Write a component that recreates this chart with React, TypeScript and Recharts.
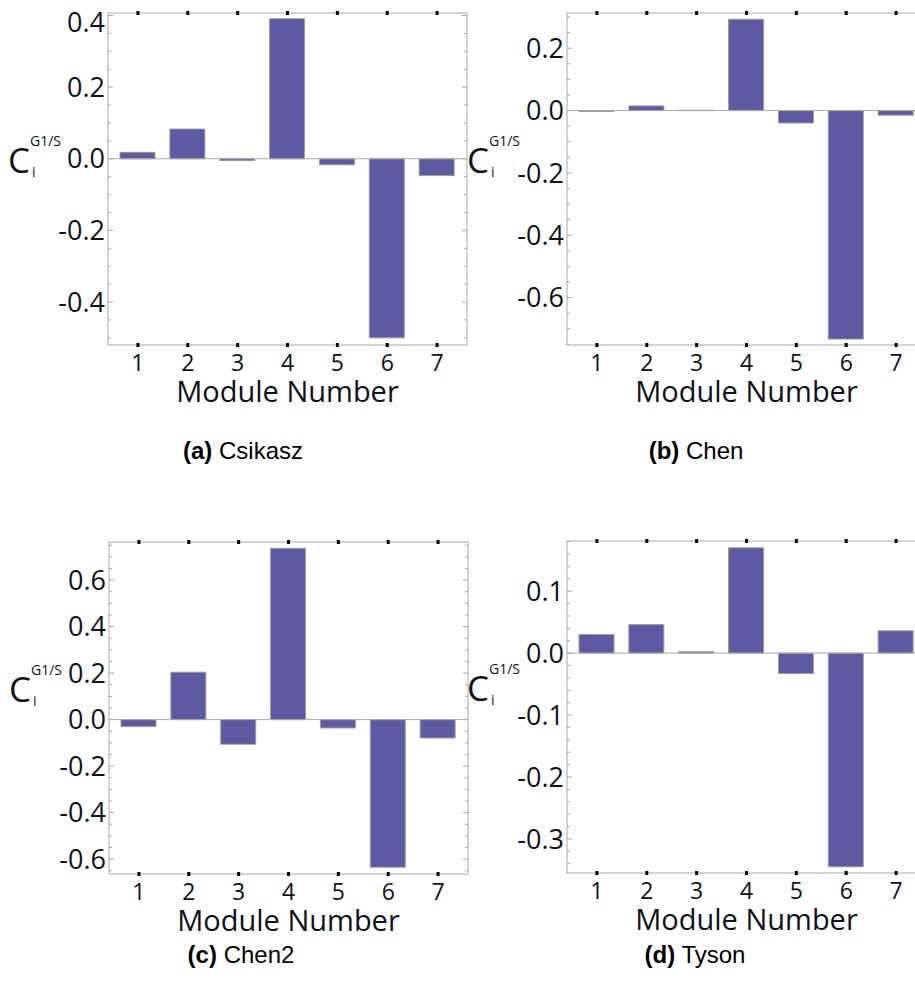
import React from 'react';
import { BarChart, Bar, XAxis, YAxis, ReferenceLine, Label } from 'recharts';

const modules = ['1', '2', '3', '4', '5', '6', '7'];

// coefficient per module
const csikasz = [0.018, 0.083, -0.005, 0.391, -0.017, -0.5, -0.047];
const chen = [-0.003, 0.015, 0.001, 0.293, -0.04, -0.733, -0.015];
const chen2 = [-0.03, 0.204, -0.106, 0.737, -0.036, -0.635, -0.079];
const tyson = [0.03, 0.046, 0.002, 0.17, -0.033, -0.345, 0.036];

const csikaszTicks = [-0.4, -0.2, 0, 0.2, 0.4];
const chenTicks = [-0.6, -0.4, -0.2, 0, 0.2];
const chen2Ticks = [-0.6, -0.4, -0.2, 0, 0.2, 0.4, 0.6];
const tysonTicks = [-0.3, -0.2, -0.1, 0, 0.1];

const AXIS_FONT = '"Open Sans", sans-serif';
const GRAY = '#a8a8a8';
const BAR = '#5d5aa3';
const INK = '#0e121a';

function allTicks(domain: number[], step: number) {
  const out: number[] = [];
  const start = Math.ceil(domain[0] / step - 1e-9);
  const end = Math.floor(domain[1] / step + 1e-9);
  for (let k = start; k <= end; k++) out.push(Math.round(k * step * 1000) / 1000);
  return out;
}

const isMajor = (v: number, majors: number[]) => majors.some((m) => Math.abs(m - v) < 1e-6);

function LeftTick({ x, y, payload, majors }: any) {
  const major = isMajor(payload.value, majors);
  return (
    <g>
      <line x1={x} x2={x + (major ? 5 : 3)} y1={y} y2={y} stroke={GRAY} />
      {major && (
        <text
          x={x - 3}
          y={Math.max(y, 22)}
          dy="0.36em"
          textAnchor="end"
          fontSize={27}
          fontWeight={500}
          fontFamily={AXIS_FONT}
          fill={INK}
        >
          {payload.value.toFixed(1)}
        </text>
      )}
    </g>
  );
}

function RightTick({ x, y, payload, majors }: any) {
  const major = isMajor(payload.value, majors);
  return <line x1={x} x2={x - (major ? 5 : 3)} y1={y} y2={y} stroke={GRAY} />;
}

function BottomTick({ x, y, payload }: any) {
  return (
    <g>
      <rect x={x - 1.5} y={y - 2} width={3} height={4} fill="#000" />
      <text x={x} y={y + 26} textAnchor="middle" fontSize={23} fontFamily={AXIS_FONT} fill={INK}>
        {payload.value}
      </text>
    </g>
  );
}

function TopTick({ x, y }: any) {
  return <rect x={x - 1.5} y={y - 2} width={3} height={4} fill="#000" />;
}

function Panel({ values, majors, domain, step, left, top }: any) {
  const data = modules.map((m, i) => ({ module: m, value: values[i] }));
  const ticks = allTicks(domain, step);
  return (
    <div style={{ position: 'absolute', left, top }}>
      <BarChart width={480} height={420} data={data} margin={{ top: 0, right: 0, bottom: 0, left: 0 }}>
        <XAxis
          xAxisId="b"
          dataKey="module"
          height={75}
          padding={{ left: 5, right: 5 }}
          axisLine={{ stroke: GRAY }}
          tickLine={false}
          tickSize={0}
          tickMargin={0}
          tick={<BottomTick />}
          interval={0}
        >
          <Label
            content={({ viewBox }: any) => (
              <text
                x={viewBox.x + viewBox.width / 2}
                y={viewBox.y + 57}
                textAnchor="middle"
                fontSize={29}
                fontFamily={AXIS_FONT}
                fill={INK}
              >
                Module Number
              </text>
            )}
          />
        </XAxis>
        <XAxis
          xAxisId="t"
          dataKey="module"
          orientation="top"
          height={13}
          padding={{ left: 5, right: 5 }}
          axisLine={{ stroke: GRAY }}
          tickLine={false}
          tickSize={0}
          tickMargin={0}
          tick={<TopTick />}
          interval={0}
        />
        <YAxis
          yAxisId="l"
          type="number"
          width={108}
          domain={domain}
          ticks={ticks}
          interval={0}
          allowDataOverflow
          axisLine={{ stroke: GRAY }}
          tickLine={false}
          tickSize={0}
          tickMargin={0}
          tick={<LeftTick majors={majors} />}
        >
          <Label
            content={({ viewBox }: any) => {
              const cy = viewBox.y + viewBox.height / 2 - 6;
              return (
                <g fontFamily={AXIS_FONT} fill={INK}>
                  <text x={8} y={cy} fontSize={35}>C</text>
                  <text x={30} y={cy - 27} fontSize={14}>G1/S</text>
                  <text x={32} y={cy + 4} fontSize={14}>i</text>
                </g>
              );
            }}
          />
        </YAxis>
        <YAxis
          yAxisId="r"
          type="number"
          orientation="right"
          width={13}
          domain={domain}
          ticks={ticks}
          interval={0}
          allowDataOverflow
          axisLine={{ stroke: GRAY }}
          tickLine={false}
          tickSize={0}
          tickMargin={0}
          tick={<RightTick majors={majors} />}
        />
        <ReferenceLine xAxisId="b" yAxisId="l" y={0} stroke={GRAY} />
        <Bar
          xAxisId="b"
          yAxisId="l"
          dataKey="value"
          barSize={35}
          fill={BAR}
          stroke="#9c9c9c"
          strokeWidth={1}
          isAnimationActive={false}
        />
      </BarChart>
    </div>
  );
}

function Caption({ x, y, tag, name }: any) {
  return (
    <text x={x} y={y} textAnchor="middle" fontSize={24} fontFamily='"Liberation Sans", Arial, sans-serif' fill="#000">
      <tspan fontWeight="bold">({tag})</tspan> {name}
    </text>
  );
}

export default function App() {
  return (
    <div
      style={{
        position: 'fixed',
        left: 0,
        top: 0,
        width: 915,
        height: 994,
        overflow: 'hidden',
        background: '#fff',
      }}
    >
      <Panel values={csikasz} majors={csikaszTicks} domain={[-0.52, 0.407]} step={0.05} left={0} top={0} />
      <Panel values={chen} majors={chenTicks} domain={[-0.752, 0.313]} step={0.05} left={459} top={0} />
      <Panel values={chen2} majors={chen2Ticks} domain={[-0.664, 0.764]} step={0.05} left={1} top={529} />
      <Panel values={tyson} majors={tysonTicks} domain={[-0.355, 0.181]} step={0.02} left={459} top={528} />
      <svg width={915} height={994} style={{ position: 'absolute', left: 0, top: 0, pointerEvents: 'none' }}>
        <Caption x={243} y={459} tag="a" name="Csikasz" />
        <Caption x={696} y={459} tag="b" name="Chen" />
        <Caption x={241} y={963} tag="c" name="Chen2" />
        <Caption x={695} y={963} tag="d" name="Tyson" />
      </svg>
    </div>
  );
}
